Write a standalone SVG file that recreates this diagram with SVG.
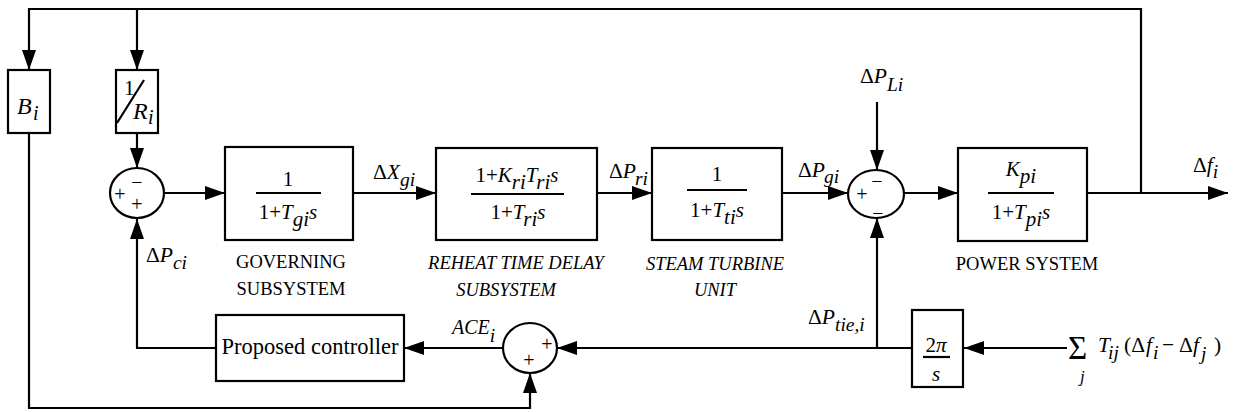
<svg xmlns="http://www.w3.org/2000/svg" width="1233" height="412" viewBox="0 0 1233 412">
<defs>
<marker id="ah" markerUnits="userSpaceOnUse" markerWidth="20" markerHeight="14" refX="20" refY="7" orient="auto">
<path d="M0,0 L20,7 L0,14 z" fill="#000"/>
</marker>
<style>
text{font-family:"Liberation Serif","Times New Roman",serif;fill:#000}
.box{fill:#fff;stroke:#000;stroke-width:2.2}
.sj{fill:#fff;stroke:#000;stroke-width:2.2}
.ln{fill:none;stroke:#000;stroke-width:2.2}
.ar{fill:none;stroke:#000;stroke-width:2.2;marker-end:url(#ah)}
.m{font-size:21px}
.l{font-size:21.5px}
.s{font-size:19.5px}
.cap{font-size:18.5px}
.sg{font-size:20px}
.i{font-style:italic}
.mid{text-anchor:middle}
</style>
</defs>

<g id="connectors">
<path class="ar" d="M1141,193 V9 H29 V70"/>
<path class="ar" d="M137,9 V70"/>
<path class="ar" d="M29,133 V408 H530 V373"/>
<path class="ar" d="M137,133 V168"/>
<path class="ar" d="M164,193 H225"/>
<path class="ar" d="M353,193 H436"/>
<path class="ar" d="M597,193 H652"/>
<path class="ar" d="M782,193 H848"/>
<path class="ar" d="M877,102 V170"/>
<path class="ar" d="M904,193 H958"/>
<path class="ar" d="M1087,193 H1228"/>
<path class="ar" d="M1067,348 H964"/>
<path class="ar" d="M912,348 H557"/>
<path class="ar" d="M877,348 V218"/>
<path class="ar" d="M502,348 H404"/>
<path class="ar" d="M216,348 H137 V219"/>
</g>

<g id="Bi">
<rect class="box" x="8" y="70" width="42" height="63"/>
<text class="i" x="17" y="114" font-size="24">B</text>
<text class="i" x="33" y="120" font-size="20">i</text>
</g>

<g id="Ri">
<rect class="box" x="116" y="70" width="42" height="63"/>
<text x="124" y="95" font-size="21">1</text>
<line class="ln" x1="117" y1="123" x2="144" y2="80" stroke-width="1.6"/>
<text class="i" x="133" y="119" font-size="24">R</text>
<text class="i" x="148" y="124" font-size="20">i</text>
</g>

<g id="sum1">
<ellipse class="sj" cx="137" cy="193" rx="27" ry="25"/>
<text class="sg mid" x="120" y="201">+</text>
<text class="sg mid" x="137" y="189">−</text>
<text class="sg mid" x="137" y="211">+</text>
</g>

<g id="governing">
<rect class="box" x="225" y="147" width="128" height="93"/>
<text class="m mid" x="288" y="186">1</text>
<line class="ln" x1="256" y1="193" x2="321" y2="193" stroke-width="1.6"/>
<text class="m mid" x="288" y="219">1+<tspan class="i">T</tspan><tspan class="i" dy="7">gi</tspan><tspan class="i" dy="-7">s</tspan></text>
<text class="cap mid" x="291" y="268">GOVERNING</text>
<text class="cap mid" x="291" y="295">SUBSYSTEM</text>
</g>

<g id="reheat">
<rect class="box" x="436" y="148" width="161" height="92"/>
<text class="m mid" x="517" y="182">1+<tspan class="i">K</tspan><tspan class="i" dy="7">ri</tspan><tspan class="i" dy="-7">T</tspan><tspan class="i" dy="7">ri</tspan><tspan class="i" dy="-7">s</tspan></text>
<line class="ln" x1="471" y1="194" x2="564" y2="194" stroke-width="1.6"/>
<text class="m mid" x="518" y="219">1+<tspan class="i">T</tspan><tspan class="i" dy="7">ri</tspan><tspan class="i" dy="-7">s</tspan></text>
<text class="cap mid i" x="516" y="269">REHEAT TIME DELAY</text>
<text class="cap mid i" x="506" y="296">SUBSYSTEM</text>
</g>

<g id="turbine">
<rect class="box" x="652" y="148" width="130" height="92"/>
<text class="m mid" x="717" y="181">1</text>
<line class="ln" x1="687" y1="190" x2="747" y2="190" stroke-width="1.6"/>
<text class="m mid" x="717" y="217">1+<tspan class="i">T</tspan><tspan class="i" dy="7">ti</tspan><tspan class="i" dy="-7">s</tspan></text>
<text class="cap mid i" x="715" y="270">STEAM TURBINE</text>
<text class="cap mid i" x="715" y="296">UNIT</text>
</g>

<g id="sum2">
<ellipse class="sj" cx="876" cy="194" rx="28" ry="24"/>
<text class="sg mid" x="862" y="201">+</text>
<text class="sg mid" x="877" y="188">−</text>
<text class="sg mid" x="878" y="220">−</text>
</g>

<g id="power">
<rect class="box" x="958" y="148" width="129" height="93"/>
<text class="m mid" x="1021" y="176"><tspan class="i">K</tspan><tspan class="i" dy="7">pi</tspan></text>
<line class="ln" x1="988" y1="193" x2="1054" y2="193" stroke-width="1.6"/>
<text class="m mid" x="1021" y="219">1+<tspan class="i">T</tspan><tspan class="i" dy="7">pi</tspan><tspan class="i" dy="-7">s</tspan></text>
<text class="cap mid" x="1027" y="270">POWER SYSTEM</text>
</g>

<g id="integrator">
<rect class="box" x="912" y="310" width="51" height="77"/>
<text class="m mid" x="936" y="352">2<tspan class="i">π</tspan></text>
<line class="ln" x1="923" y1="357" x2="950" y2="357" stroke-width="1.6"/>
<text class="m mid i" x="936" y="381">s</text>
</g>

<g id="sum3">
<ellipse class="sj" cx="530" cy="348" rx="27" ry="25"/>
<text class="sg mid" x="547" y="351">+</text>
<text class="sg mid" x="529" y="367">+</text>
</g>

<g id="controller">
<rect class="box" x="216" y="315" width="188" height="66"/>
<text class="mid" x="310" y="354" font-size="22.5">Proposed controller</text>
</g>

<g id="labels">
<text class="l" x="373" y="179">Δ<tspan class="i">X</tspan><tspan class="i s" dy="7">gi</tspan></text>
<text class="l" x="609" y="178">Δ<tspan class="i">P</tspan><tspan class="i s" dy="7" dx="-1">ri</tspan></text>
<text class="l" x="798" y="177">Δ<tspan class="i">P</tspan><tspan class="i s" dy="6" dx="-1">gi</tspan></text>
<text class="l" x="860" y="83">Δ<tspan class="i">P</tspan><tspan class="i s" dy="8">Li</tspan></text>
<text class="l" x="1193" y="172">Δ<tspan class="i">f</tspan><tspan class="i s" dy="6">i</tspan></text>
<text class="l" x="146" y="262">Δ<tspan class="i">P</tspan><tspan class="i s" dy="7">ci</tspan></text>
<text class="l" x="808" y="324">Δ<tspan class="i">P</tspan><tspan class="i s" dy="7">tie,i</tspan></text>
<text class="i" x="452" y="334" font-size="20">ACE<tspan class="s" dy="8">i</tspan></text>
<text x="1068" y="359" font-size="33">Σ</text>
<text class="i" x="1080" y="382" font-size="17">j</text>
<text class="l i" x="1098" y="352">T</text>
<text class="s i" x="1108" y="359">ij</text>
<text class="l" x="1124" y="352">(Δ</text>
<text class="l i" x="1146" y="352">f</text>
<text class="s i" x="1153" y="359">i</text>
<text class="l" x="1162" y="352">−</text>
<text class="l" x="1179" y="352">Δ</text>
<text class="l i" x="1193" y="352">f</text>
<text class="s i" x="1201" y="360">j</text>
<text class="l" x="1214" y="352">)</text>
</g>
</svg>
